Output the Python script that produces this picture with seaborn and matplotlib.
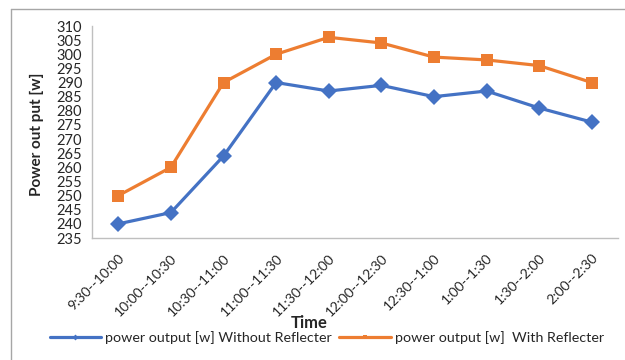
import matplotlib
matplotlib.use("Agg")
import matplotlib.pyplot as plt
from matplotlib.lines import Line2D
import seaborn as sns
import pandas as pd

# Half-hour time slots and measured power output (W)
time_slots = ["9:30--10:00", "10:00--10:30", "10:30--11:00", "11:00--11:30",
              "11:30--12:00", "12:00--12:30", "12:30--1:00", "1:00--1:30",
              "1:30--2:00", "2:00--2:30"]
without_reflecter = [240, 244, 264, 290, 287, 289, 285, 287, 281, 276]
with_reflecter = [250, 260, 290, 300, 306, 304, 299, 298, 296, 290]
series_names = ["power output [w] Without Reflecter", "power output [w]  With Reflecter"]

df = pd.DataFrame({
    "Time": time_slots * 2,
    "Power": without_reflecter + with_reflecter,
    "Series": [series_names[0]] * len(time_slots) + [series_names[1]] * len(time_slots),
})
df["pos"] = list(range(len(time_slots))) * 2

sns.set_style("white")
plt.rcParams["font.family"] = ["Lato", "DejaVu Sans"]

blue = "#4472C4"
orange = "#ED7D31"
axis_grey = "#BFBFBF"
text_col = "#262626"

fig = plt.figure(figsize=(6.25, 3.6), dpi=100)
ax = fig.add_axes([92 / 625, 1 - 238 / 360, (618 - 92) / 625, (238 - 26) / 360])

sns.lineplot(data=df, x="pos", y="Power", hue="Series", style="Series",
             palette=[blue, orange], markers=["D", "s"], dashes=False,
             markersize=8, linewidth=2.3, markeredgewidth=0, ax=ax, legend=False)

ax.set_xlim(-0.5, len(time_slots) - 0.5)
ax.set_ylim(235, 310)
ax.set_yticks(range(235, 311, 5))
ax.set_xticks(range(len(time_slots)))
ax.set_xticklabels(time_slots, rotation=45, ha="right", rotation_mode="anchor",
                   fontsize=10, color=text_col)
ax.set_xticks([i - 0.5 for i in range(len(time_slots) + 1)], minor=True)
ax.tick_params(axis="x", which="major", length=0, pad=10)
ax.tick_params(axis="x", which="minor", length=5, color=axis_grey, width=1, direction="out")
ax.tick_params(axis="y", length=5, color=axis_grey, width=1, direction="out",
               labelsize=10.5, labelcolor=text_col, pad=2)
ax.set_xlabel("")
ax.set_ylabel("")

for side in ["top", "right"]:
    ax.spines[side].set_visible(False)
for side in ["left", "bottom"]:
    ax.spines[side].set_color(axis_grey)
    ax.spines[side].set_linewidth(1)

fig.text(37 / 625, 1 - 134 / 360, "Power out put [w]", rotation=90, ha="center",
         va="center", fontsize=11, fontweight="bold", color=text_col)
fig.text(309 / 625, 1 - 323 / 360, "Time", ha="center", va="center",
         fontsize=12, fontweight="bold", color=text_col)

handles = [
    Line2D([], [], color=blue, lw=2.3, marker="D", markersize=3, markeredgewidth=0),
    Line2D([], [], color=orange, lw=2.3, marker="s", markersize=3.5, markeredgewidth=0),
]
fig.legend(handles, series_names, loc="center", bbox_to_anchor=(327 / 625, 1 - 338 / 360),
           ncol=2, frameon=False, fontsize=10.3, handlelength=3.6, handletextpad=0.3,
           columnspacing=0.5, labelcolor=text_col, borderpad=0)

# chart outline (left and top edges)
fig.add_artist(Line2D([11 / 625, 11 / 625], [0, 1 - 9 / 360], transform=fig.transFigure,
                      color="#A6A6A6", lw=1))
fig.add_artist(Line2D([11 / 625, 1], [1 - 9 / 360, 1 - 9 / 360], transform=fig.transFigure,
                      color="#A6A6A6", lw=1))

fig.savefig("out.png", dpi=100)
